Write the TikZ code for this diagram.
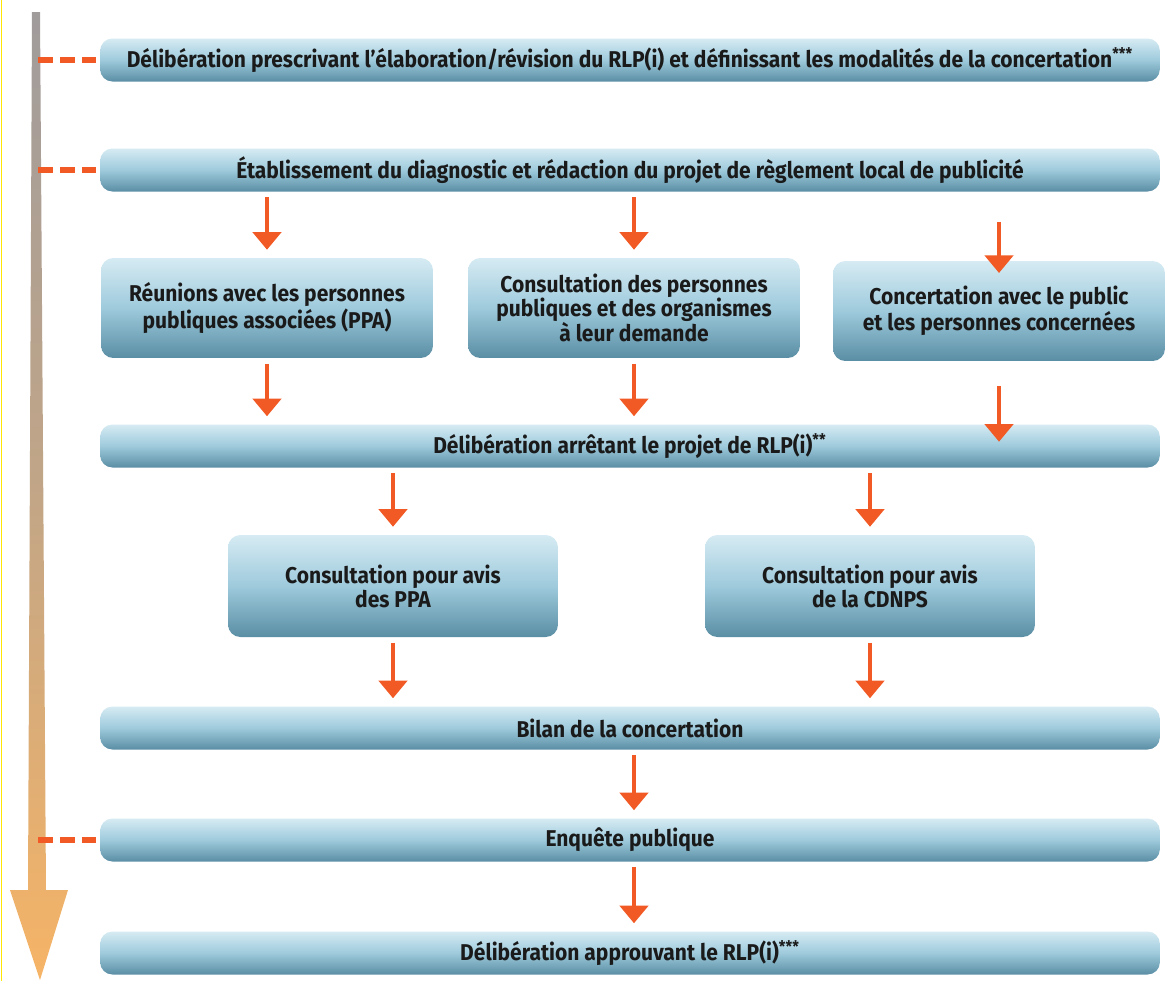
\documentclass[tikz,border=0pt]{standalone}
\usepackage{fontspec}
\setmainfont{Fira Sans}[FakeStretch=0.92]
\usepackage{xcolor}
\usetikzlibrary{arrows.meta, positioning}

\definecolor{boxtop}{HTML}{D6EBF3}
\definecolor{boxmid}{HTML}{9ECADC}
\definecolor{boxbot}{HTML}{5A8EA4}
\definecolor{flow}{HTML}{F15A24}
\definecolor{bartop}{HTML}{A09C9C}
\definecolor{barbot}{HTML}{F6B466}
\definecolor{ink}{HTML}{1A1A1A}

\begin{document}
\begin{tikzpicture}[
    x=0.02cm, y=-0.02cm,
    every node/.style={font=\fontsize{13pt}{13.6pt}\selectfont\bfseries, text=ink, align=center},
    box/.style={rounded corners=7pt, top color=boxtop, bottom color=boxbot, middle color=boxmid},
    stage/.style={box, minimum width=21.2cm, minimum height=0.86cm},
    task/.style={box, minimum width=6.64cm, minimum height=2cm},
    flowarrow/.style={draw=flow, line width=2.3pt, -{Triangle[width=16pt,length=10pt]},
        shorten <=3pt, shorten >=4.5pt},
    tick/.style={draw=flow, line width=3.8pt, dash pattern=on 8.5pt off 4pt, shorten >=2pt}
]
\useasboundingbox (0,0) rectangle (1166,981);

% time line on the left
\draw[yellow!90!orange, line width=1pt] (1.5,0) -- (1.5,981);
\shade[top color=bartop, bottom color=barbot, middle color=bartop!60!barbot]
    (32,12) -- (40,12) -- (46,890) -- (68,890) -- (40,980) -- (10,890) -- (28,890) -- cycle;
\coordinate (t1) at (38,60);
\coordinate (t2) at (38,170);
\coordinate (t3) at (38,840);

% Nodes placed manually
\node[stage] (prescription) at (630,60) {Délibération prescrivant l’élaboration/révision du RLP(i) et définissant les modalités de la concertation\textsuperscript{***}};
\node[stage] (diagnostic) at (630,170) {Établissement du diagnostic et rédaction du projet de règlement local de publicité};
\node[task] (reunions) at (267,308) {Réunions avec les personnes\\publiques associées (PPA)};
\node[task] (consultation) at (634,308) {Consultation des personnes\\publiques et des organismes\\à leur demande};
\node[task] (concertation) at (999,311) {Concertation avec le public\\et les personnes concernées};
\node[stage] (arret) at (630,446) {Délibération arrêtant le projet de RLP(i)\textsuperscript{**}};
\node[task, minimum width=6.6cm, minimum height=2.04cm] (avisPPA) at (393,586) {Consultation pour avis\\des PPA};
\node[task, minimum width=6.6cm, minimum height=2.04cm] (avisCDNPS) at (870,586) {Consultation pour avis\\de la CDNPS};
\node[stage] (bilan) at (630,728) {Bilan de la concertation};
\node[stage] (enquete) at (630,840) {Enquête publique};
\node[stage] (approbation) at (630,953) {Délibération approuvant le RLP(i)\textsuperscript{***}};

% dashed ticks
\draw[tick] (t1) -- (prescription.west);
\draw[tick] (t2) -- (diagnostic.west);
\draw[tick] (t3) -- (enquete.west);

% Arrows
\draw[flowarrow] (diagnostic.south -| reunions) -- (reunions.north);
\draw[flowarrow] (diagnostic.south -| consultation) -- (consultation.north);
\draw[flowarrow, shorten <=17pt, shorten >=-7pt] (diagnostic.south -| concertation) -- (concertation.north);
\draw[flowarrow] (reunions.south) -- (reunions.south |- arret.north);
\draw[flowarrow] (consultation.south) -- (consultation.south |- arret.north);
\draw[flowarrow, shorten <=14pt, shorten >=-10pt] (concertation.south) -- (concertation.south |- arret.north);
\draw[flowarrow] (arret.south -| avisPPA) -- (avisPPA.north);
\draw[flowarrow] (arret.south -| avisCDNPS) -- (avisCDNPS.north);
\draw[flowarrow] (avisPPA.south) -- (avisPPA.south |- bilan.north);
\draw[flowarrow] (avisCDNPS.south) -- (avisCDNPS.south |- bilan.north);
\draw[flowarrow] (bilan.south -| consultation) -- (enquete.north -| consultation);
\draw[flowarrow] (enquete.south -| consultation) -- (approbation.north -| consultation);
\end{tikzpicture}
\end{document}
